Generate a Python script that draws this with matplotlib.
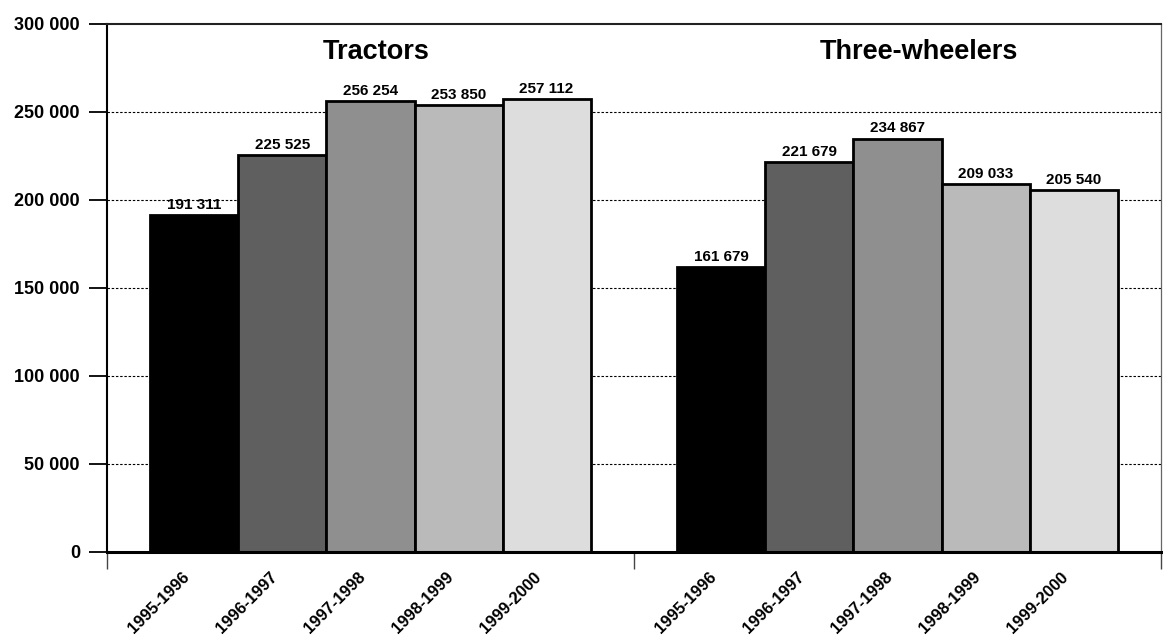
import matplotlib
matplotlib.use("Agg")
import matplotlib.pyplot as plt
import numpy as np

plt.rcParams['font.family'] = ['Liberation Sans', 'DejaVu Sans']

groups = ["Tractors", "Three-wheelers"]
seasons = ["1995-1996", "1996-1997", "1997-1998", "1998-1999", "1999-2000"]
tractors = [191311, 225525, 256254, 253850, 257112]
three_wheelers = [161679, 221679, 234867, 209033, 205540]
y_ticks = [0, 50000, 100000, 150000, 200000, 250000, 300000]
bar_colors = ["#000000", "#5f5f5f", "#8f8f8f", "#bababa", "#dddddd"]


def fmt(v):
    return f"{v:,}".replace(",", " ")


fig = plt.figure(figsize=(11.63, 6.38), dpi=100)
ax = fig.add_axes([107 / 1163, 86 / 638, 1054 / 1163, 528 / 638])

bar_w = 0.167
series = [tractors, three_wheelers]
tick_pos, tick_lab = [], []
for g, vals in enumerate(series):
    center = g + 0.5
    for i, v in enumerate(vals):
        x = center + (i - 2) * bar_w
        ax.bar(x, v, width=bar_w, color=bar_colors[i], edgecolor="black",
               linewidth=2.0, zorder=3)
        ax.text(x, v + 3600, fmt(v), ha="center", va="baseline",
                fontsize=11, fontweight="bold", zorder=4)
        tick_pos.append(x)
        tick_lab.append(seasons[i])

ax.text(0.51, 284000, groups[0], ha="center", va="center",
        fontsize=19.5, fontweight="bold")
ax.text(1.54, 284000, groups[1], ha="center", va="center",
        fontsize=19.5, fontweight="bold")

ax.set_xlim(0, 2)
ax.set_ylim(0, 300000)

ax.set_yticks(y_ticks)
ax.set_yticklabels([fmt(t) for t in y_ticks], fontsize=13, fontweight="bold")
ax.tick_params(axis="y", direction="out", length=13, width=1.3, pad=6.5)
for t in y_ticks[1:-1]:
    ax.axhline(t, color="black", linestyle=(0, (2.2, 1.6)), linewidth=0.8, zorder=1)

# category boundary ticks below the baseline
ax.set_xticks([0, 1, 2])
ax.set_xticklabels([])
ax.tick_params(axis="x", direction="out", length=12.5, width=1.0, color="#444444")

for x, lab in zip(tick_pos, tick_lab):
    ax.text(x - 0.024, -9800, lab, rotation=45, ha="right", va="top",
            rotation_mode="anchor", fontsize=12, fontweight="bold")

for side in ["left", "top"]:
    ax.spines[side].set_color("black")
    ax.spines[side].set_linewidth(1.5)
ax.spines["top"].set_color("#222222")
ax.spines["bottom"].set_color("black")
ax.spines["bottom"].set_linewidth(2.2)
ax.spines["right"].set_color("#666666")
ax.spines["right"].set_linewidth(0.9)
ax.spines["bottom"].set_zorder(5)

fig.savefig("out.png", dpi=100)
